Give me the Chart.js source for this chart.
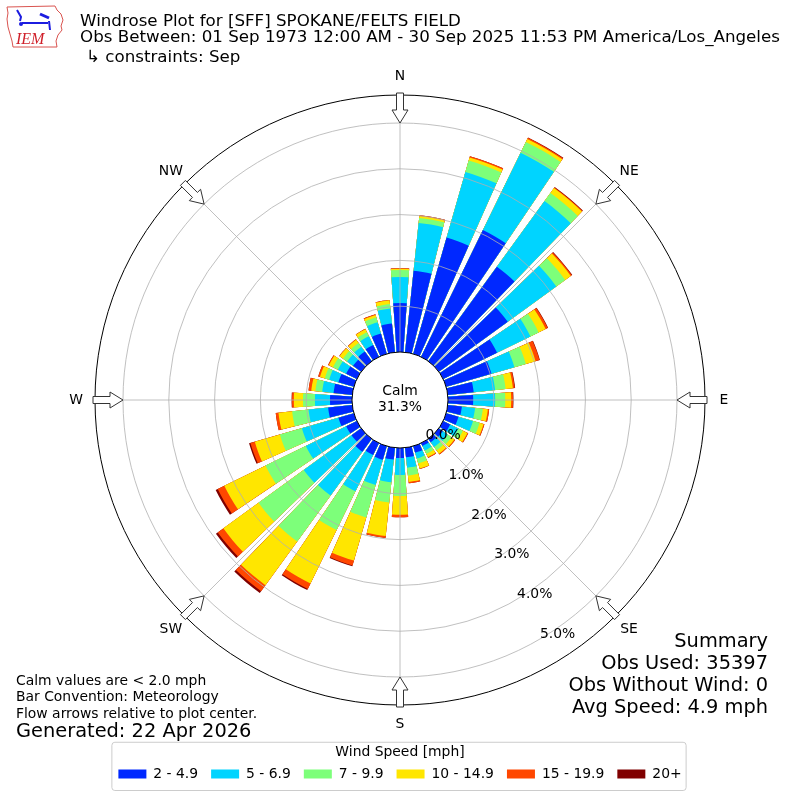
<!DOCTYPE html>
<html>
<head>
<meta charset="utf-8">
<title>Windrose Plot for [SFF] SPOKANE/FELTS FIELD</title>
<script src="https://cdn.jsdelivr.net/npm/chart.js@4.4.1/dist/chart.umd.min.js"></script>
<style>
  html, body { margin: 0; padding: 0; background: #fff; }
  canvas { display: block; }
</style>
</head>
<body>
<canvas id="rose" width="800" height="800"></canvas>
<script>
// direction each bar points to (degrees from north, clockwise)
const directions = [0, 10, 20, 30, 40, 50, 60, 70, 80, 90, 100, 110, 120, 130, 140, 150, 160, 170,
  180, 190, 200, 210, 220, 230, 240, 250, 260, 270, 280, 290, 300, 310, 320, 330, 340, 350];

const speedBins = ['2 - 4.9', '5 - 6.9', '7 - 9.9', '10 - 14.9', '15 - 19.9', '20+'];

// frequency [%] of each speed bin per direction
const freq2to5 = [1.07, 1.79, 2.64, 3.08, 2.55, 1.86, 1.31, 1.03, 0.57, 0.55, 0.31, 0.28, 0.17, 0.11, 0.09, 0.07, 0.15, 0.21,
  0.22, 0.26, 0.31, 0.29, 0.35, 0.26, 0.26, 0.35, 0.53, 0.48, 0.41, 0.35, 0.26, 0.22, 0.26, 0.29, 0.46, 0.63];
const freq5to7 = [0.57, 1.05, 1.49, 1.88, 1.77, 1.31, 0.81, 0.52, 0.47, 0.48, 0.29, 0.33, 0.20, 0.13, 0.13, 0.11, 0.13, 0.23,
  0.37, 0.50, 0.57, 0.88, 1.18, 1.29, 0.98, 0.83, 0.43, 0.33, 0.25, 0.21, 0.20, 0.16, 0.13, 0.21, 0.26, 0.33];
const freq7to10 = [0.15, 0.11, 0.26, 0.26, 0.22, 0.24, 0.20, 0.26, 0.23, 0.22, 0.17, 0.15, 0.11, 0.10, 0.09, 0.08, 0.11, 0.17,
  0.46, 0.44, 0.74, 0.94, 1.24, 1.22, 0.98, 0.50, 0.36, 0.26, 0.15, 0.10, 0.12, 0.11, 0.10, 0.10, 0.11, 0.10];
const freq10to15 = [0.03, 0.04, 0.07, 0.07, 0.13, 0.15, 0.17, 0.22, 0.16, 0.13, 0.11, 0.09, 0.11, 0.08, 0.09, 0.08, 0.12, 0.14,
  0.41, 0.74, 0.98, 1.30, 1.18, 0.95, 1.00, 0.57, 0.30, 0.20, 0.09, 0.11, 0.10, 0.09, 0.09, 0.07, 0.05, 0.08];
const freq15to20 = [0.01, 0.02, 0.03, 0.03, 0.02, 0.03, 0.05, 0.09, 0.04, 0.04, 0.03, 0.02, 0.02, 0.02, 0.02, 0.02, 0.01, 0.03,
  0.05, 0.04, 0.11, 0.13, 0.16, 0.15, 0.16, 0.10, 0.06, 0.04, 0.06, 0.04, 0.02, 0.01, 0.01, 0.01, 0.02, 0.01];
const freq20plus = [0.00, 0.00, 0.00, 0.01, 0.01, 0.01, 0.01, 0.01, 0.01, 0.01, 0.00, 0.00, 0.00, 0.00, 0.00, 0.00, 0.00, 0.00,
  0.00, 0.00, 0.02, 0.03, 0.05, 0.05, 0.05, 0.03, 0.00, 0.01, 0.00, 0.00, 0.00, 0.00, 0.00, 0.00, 0.00, 0.00];

const calmPct = 31.3;
const rTicks = [0, 1, 2, 3, 4, 5];
const compassLabels = ['N', 'NE', 'E', 'SE', 'S', 'SW', 'W', 'NW'];

const titleLines = [
  'Windrose Plot for [SFF] SPOKANE/FELTS FIELD',
  'Obs Between: 01 Sep 1973 12:00 AM - 30 Sep 2025 11:53 PM America/Los_Angeles',
  '\u21b3 constraints: Sep'
];
const noteLines = ['Calm values are < 2.0 mph', 'Bar Convention: Meteorology', 'Flow arrows relative to plot center.'];
const generatedText = 'Generated: 22 Apr 2026';
const summaryLines = ['Summary', 'Obs Used: 35397', 'Obs Without Wind: 0', 'Avg Speed: 4.9 mph'];

const binColors = ['#0028ff', '#00d4ff', '#7dff7a', '#ffe600', '#ff4700', '#800000'];
const FONT = '"DejaVu Sans", sans-serif';

// stacked totals, outermost series is drawn first so inner ones paint over it
const bins = [freq2to5, freq5to7, freq7to10, freq10to15, freq15to20, freq20plus];
const cumulative = bins.map((_, k) =>
  directions.map((d, i) => bins.slice(0, k + 1).reduce((s, b) => s + b[i], 0)));

// each direction gets a bar slot and a small empty slot after it
const barAngle = 8, gapAngle = 2;
const slotLabels = directions.flatMap(d => [d + '\u00b0', '']);

const datasets = speedBins.map((label, k) => ({
  label: label,
  data: directions.flatMap((d, i) => [cumulative[k][i], 0]),
  backgroundColor: binColors[k],
  borderWidth: 0,
  angle: c => (c.dataIndex % 2 === 0 ? barAngle : gapAngle)
}));

const isRing = v => v >= 1 && v <= 5 && Math.abs(v - Math.round(v)) < 1e-6;

const roseDecor = {
  id: 'roseDecor',
  afterDatasetsDraw(chart) {
    const s = chart.scales.r, ctx = chart.ctx;
    const cx = s.xCenter, cy = s.yCenter;
    const r0 = s.getDistanceFromCenterForValue(0);
    ctx.save();
    // calm circle
    ctx.fillStyle = '#fff';
    ctx.beginPath();
    ctx.arc(cx, cy, r0, 0, Math.PI * 2);
    ctx.fill();
    // spokes
    ctx.strokeStyle = '#b0b0b0';
    ctx.lineWidth = 0.8;
    compassLabels.forEach((lab, i) => {
      const a = i * 45 * Math.PI / 180;
      ctx.beginPath();
      ctx.moveTo(cx + r0 * Math.sin(a), cy - r0 * Math.cos(a));
      ctx.lineTo(cx + s.drawingArea * Math.sin(a), cy - s.drawingArea * Math.cos(a));
      ctx.stroke();
    });
    ctx.restore();
  },
  afterDraw(chart) {
    const s = chart.scales.r, ctx = chart.ctx;
    const cx = s.xCenter, cy = s.yCenter, R = s.drawingArea;
    const pos = (r, deg) => [cx + r * Math.sin(deg * Math.PI / 180), cy - r * Math.cos(deg * Math.PI / 180)];
    ctx.save();

    // flow arrows + compass labels
    compassLabels.forEach((lab, i) => {
      const a = i * 45 * Math.PI / 180;
      const pts = [[R + 2, -3.5], [R - 15, -3.5], [R - 15, -8], [R - 28, 0], [R - 15, 8], [R - 15, 3.5], [R + 2, 3.5]];
      ctx.beginPath();
      pts.forEach(([u, w], j) => {
        const x = cx + u * Math.sin(a) + w * Math.cos(a);
        const y = cy - u * Math.cos(a) + w * Math.sin(a);
        if (j) ctx.lineTo(x, y); else ctx.moveTo(x, y);
      });
      ctx.closePath();
      ctx.fillStyle = '#fff';
      ctx.fill();
      ctx.strokeStyle = '#333';
      ctx.lineWidth = 1;
      ctx.stroke();

      const [lx, ly] = pos(R + 19, i * 45);
      ctx.fillStyle = '#000';
      ctx.font = '13.9px ' + FONT;
      ctx.textAlign = 'center';
      ctx.textBaseline = 'middle';
      ctx.fillText(lab, lx, ly);
    });

    // radial tick labels along SSE
    ctx.font = '13.9px ' + FONT;
    ctx.textAlign = 'left';
    ctx.textBaseline = 'alphabetic';
    rTicks.forEach(v => {
      const [x, y] = pos(s.getDistanceFromCenterForValue(v), 150);
      ctx.fillText(v.toFixed(1) + '%', x + 1.5, y - 2.4);
    });

    // calm label
    ctx.textAlign = 'center';
    ctx.textBaseline = 'middle';
    ctx.fillText('Calm', cx, cy - 9);
    ctx.fillText(calmPct.toFixed(1) + '%', cx, cy + 7);

    // header
    ctx.textAlign = 'left';
    ctx.textBaseline = 'alphabetic';
    ctx.font = '16.7px ' + FONT;
    ctx.fillText(titleLines[0], 80, 25.5);
    ctx.fillText(titleLines[1], 80, 41.5);
    ctx.fillText(titleLines[2], 86, 61.5);

    // notes bottom left
    ctx.font = '13.9px ' + FONT;
    noteLines.forEach((t, i) => ctx.fillText(t, 16, 685 + i * 16.3));
    ctx.font = '19.4px ' + FONT;
    ctx.fillText(generatedText, 16, 737);

    // summary bottom right
    ctx.textAlign = 'right';
    summaryLines.forEach((t, i) => ctx.fillText(t, 768, 647 + i * 22));

    // legend frame
    const lg = chart.legend;
    if (lg && lg.legendHitBoxes && lg.legendHitBoxes.length) {
      const hb = lg.legendHitBoxes;
      const left = Math.min(...hb.map(b => b.left)) - 7;
      const right = Math.max(...hb.map(b => b.left + b.width)) + 4;
      ctx.strokeStyle = '#cccccc';
      ctx.lineWidth = 1;
      ctx.beginPath();
      ctx.roundRect(left + 0.5, lg.top + 0.5, right - left, lg.height - 1, 3);
      ctx.stroke();
    }

    // IEM logo
    ctx.strokeStyle = '#d9534f';
    ctx.lineWidth = 1;
    const iowa = [[7, 7], [55, 6], [57, 10], [61, 14], [63, 20], [61, 26], [62, 30], [58, 35], [56, 41], [57, 47],
      [13, 47], [12, 41], [10, 34], [8, 27], [7, 19], [8, 13]];
    ctx.beginPath();
    iowa.forEach(([x, y], j) => (j ? ctx.lineTo(x, y) : ctx.moveTo(x, y)));
    ctx.closePath();
    ctx.stroke();
    ctx.strokeStyle = '#1c1ce0';
    ctx.fillStyle = '#1c1ce0';
    ctx.lineWidth = 2;
    ctx.beginPath();
    ctx.moveTo(17, 10); ctx.lineTo(21, 17); ctx.lineTo(20, 21);
    ctx.moveTo(22, 23); ctx.lineTo(48, 23);
    ctx.moveTo(49, 21); ctx.lineTo(50, 30);
    ctx.stroke();
    ctx.lineWidth = 3;
    ctx.beginPath();
    ctx.moveTo(40, 14); ctx.lineTo(49, 18);
    ctx.stroke();
    ctx.beginPath();
    ctx.arc(21, 24, 2, 0, Math.PI * 2);
    ctx.fill();
    ctx.font = 'italic 16px "Liberation Serif", serif';
    ctx.fillStyle = '#d0202a';
    ctx.textAlign = 'left';
    ctx.fillText('IEM', 16, 44);

    ctx.restore();
  }
};

Chart.defaults.font.family = FONT;
Chart.defaults.font.size = 13.9;
Chart.defaults.color = '#000';

new Chart(document.getElementById('rose'), {
  type: 'polarArea',
  data: { labels: slotLabels, datasets: datasets },
  options: {
    responsive: false,
    animation: false,
    events: [],
    layout: { padding: { left: 95, right: 95, top: 58.5, bottom: 9 } },
    scales: {
      r: {
        min: -1.048,
        max: 5.611,
        startAngle: -barAngle / 2,
        ticks: { display: false, stepSize: 1 },
        angleLines: { display: false },
        pointLabels: { display: false },
        grid: {
          circular: true,
          z: 1,
          color: c => {
            const v = c.tick ? c.tick.value : NaN;
            if (v === 0 || Math.abs(v - 5.611) < 1e-6) return '#000';
            return isRing(v) ? '#b0b0b0' : 'rgba(0,0,0,0)';
          },
          lineWidth: c => {
            const v = c.tick ? c.tick.value : NaN;
            if (v === 0 || Math.abs(v - 5.611) < 1e-6) return 1;
            return isRing(v) ? 0.8 : 0;
          }
        }
      }
    },
    plugins: {
      tooltip: { enabled: false },
      legend: {
        position: 'bottom',
        title: {
          display: true,
          text: 'Wind Speed [mph]',
          color: '#000',
          font: { size: 13.9, lineHeight: 0.6 },
          padding: { top: 4, bottom: 0 }
        },
        labels: {
          boxWidth: 28,
          boxHeight: 9,
          padding: 13,
          color: '#000',
          font: { size: 13.9 },
          generateLabels: chart => chart.data.datasets.map((ds, i) => ({
            text: ds.label,
            fillStyle: ds.backgroundColor,
            strokeStyle: ds.backgroundColor,
            lineWidth: 0,
            fontColor: '#000',
            hidden: false,
            datasetIndex: i
          }))
        }
      }
    }
  },
  plugins: [roseDecor]
});
</script>
</body>
</html>
